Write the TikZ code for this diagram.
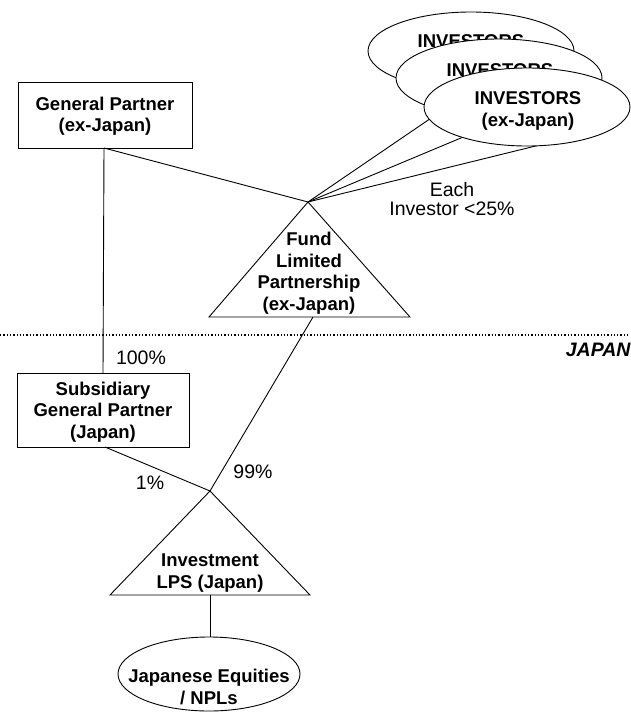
\documentclass[tikz,border=0pt]{standalone}
\usepackage{fontspec}
\setmainfont{Liberation Sans}
\usetikzlibrary{shapes.geometric}
\begin{document}
\begin{tikzpicture}[x=1pt,y=-1pt,line width=0.9pt,
  bold/.style={font=\fontsize{18.5}{21.5}\selectfont\bfseries,align=center,inner sep=0pt},
  reg/.style={font=\fontsize{19.5}{19}\selectfont,align=center,inner sep=0pt},
  inv/.style={draw,fill=white,ellipse,minimum width=206,minimum height=78,inner sep=0pt}]
\useasboundingbox (0,0) rectangle (630,712);
% junctions
\coordinate (fundtop) at (308,202);
\coordinate (fundL) at (209,317);
\coordinate (fundR) at (410,317);
\coordinate (fundB) at (313,317);
\coordinate (lpstop) at (210,491);
\coordinate (lpsL) at (110,595);
\coordinate (lpsR) at (310,595);
\coordinate (lpsB) at (210,595);
% investor lines (behind ellipses)
\coordinate (t1) at (440,112);
\coordinate (t2) at (480,130);
\coordinate (t3) at (560,140);
\draw (fundtop) -- (t1);
\draw (fundtop) -- (t2);
\draw (fundtop) -- (t3);
% investor ellipses
\node[inv] (inv1) at (471,51) {};
\node[bold] (inv1t) at (471,41) {INVESTORS};
\node[inv] (inv2) at (499,78) {};
\node[bold] (inv2t) at (500,70) {INVESTORS};
\node[inv] (inv3) at (527,107) {};
\node[bold] (inv3t) at (528,111) {INVESTORS\\(ex-Japan)};
% general partner
\draw (18,82) rectangle (192,148);
\node[bold] (gp) at (105,116) {General Partner\\(ex-Japan)};
\coordinate (gpB) at (104,148);
% subsidiary
\draw (17,373) rectangle (189,447);
\node[bold] (sub) at (103,412) {Subsidiary\\General Partner\\(Japan)};
\coordinate (subT) at (103,373);
\coordinate (subB) at (105,447);
% fund triangle
\draw (fundtop) -- (fundR) -- (fundL) -- cycle;
\node[bold] (fund) at (309,273) {Fund\\Limited\\Partnership\\(ex-Japan)};
% lps triangle
\draw (lpstop) -- (lpsR) -- (lpsL) -- cycle;
\node[bold] (lps) at (210,573) {Investment\\LPS (Japan)};
% bottom ellipse
\draw (209,674) ellipse [x radius=91,y radius=37];
\coordinate (eqT) at (210,637);
\node[bold] (eq) at (209,687) {Japanese Equities\\/ NPLs};
% connectors
\draw (gpB) -- (subT);
\draw (gpB) -- (fundtop);
\draw (fundB) -- (lpstop);
\draw (subB) -- (lpstop);
\draw (lpsB) -- (eqT);
% border line
\draw[dotted,line width=1.3pt] (0,335) -- (630,335);
\node[font=\fontsize{19.5}{20}\selectfont\bfseries\itshape,anchor=east,inner sep=0pt] (jp) at (631,350) {JAPAN};
% labels
\node[reg] (each) at (452,199) {Each\\Investor <25\%};
\node[reg] (p100) at (141,358) {100\%};
\node[reg] (p1) at (150,483) {1\%};
\node[reg] (p99) at (253,472) {99\%};
\end{tikzpicture}
\end{document}
